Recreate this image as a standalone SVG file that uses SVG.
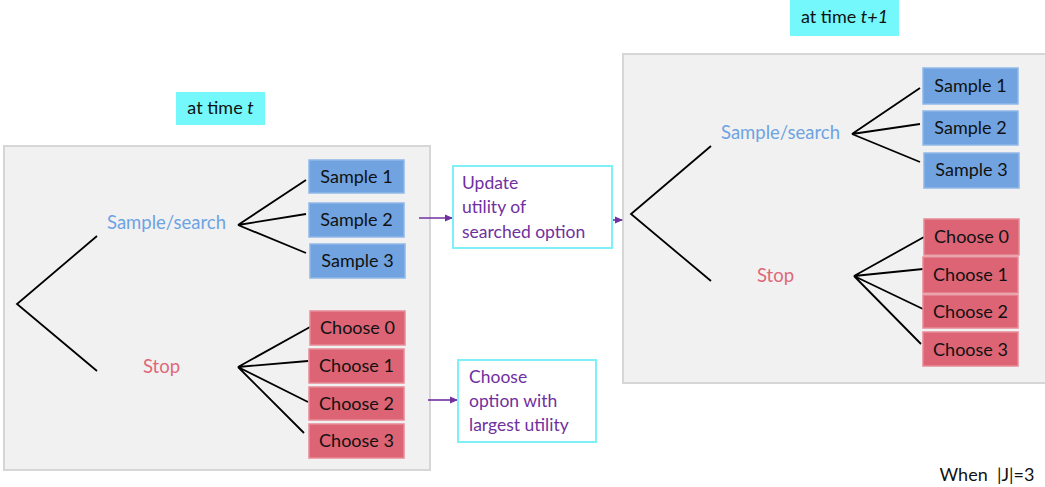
<svg xmlns="http://www.w3.org/2000/svg" width="1045" height="487" viewBox="0 0 1045 487">
<style>
.panel{fill:#f1f1f1;stroke:#d6d6d6;stroke-width:2}
.lbl{fill:#74f8fc}
.blue{fill:#70a3df;stroke:#8fb8e8;stroke-width:1.5}
.red{fill:#dc6474;stroke:#e88a96;stroke-width:1.5}
.t{font-family:Lato,"Liberation Sans",sans-serif;font-size:18px;fill:#111;text-anchor:middle}
.s{font-family:Lato,"Liberation Sans",sans-serif;font-size:18.5px;fill:#6ea3e2;text-anchor:middle}
.st{font-family:Lato,"Liberation Sans",sans-serif;font-size:18.5px;fill:#e06878;text-anchor:middle}
.p{font-family:Lato,"Liberation Sans",sans-serif;font-size:17.5px;fill:#7030a0}
.box{fill:#fff;stroke:#80f0f8;stroke-width:2}
.ln{stroke:#000;stroke-width:1.8;fill:none}
.ar{stroke:#7030a0;stroke-width:1.6;fill:none;marker-end:url(#ah)}
</style>
<defs>
<marker id="ah" markerWidth="8" markerHeight="8" refX="7" refY="4" orient="auto" markerUnits="userSpaceOnUse">
<path d="M0,0.5 L8,4 L0,7.5 Z" fill="#7030a0"/>
</marker>
</defs>
<rect width="1045" height="487" fill="#fff"/>
<g id="panel-t">
<rect class="panel" x="4" y="146" width="426" height="324"/>
</g>
<g id="panel-t1">
<rect class="panel" x="623" y="54" width="425" height="329"/>
</g>
<g id="label-t"><rect class="lbl" x="176" y="92" width="89" height="33"/><text class="t" x="220.5" y="114" font-size="17">at time <tspan font-style="italic">t</tspan></text></g>
<g id="label-t1"><rect class="lbl" x="790" y="0" width="109" height="36"/><text class="t" x="844.5" y="23" font-size="17">at time <tspan font-style="italic">t+1</tspan></text></g>
<g id="connectors">
<polyline class="ln" points="97,236 17,304 97,371"/>
<path class="ln" d="M306,180 L238,225 L306,214 M238,225 L306,253"/>
<path class="ln" d="M310,327 L238,367 L308,361 M238,367 L308,402 M238,367 L304,433"/>
<polyline class="ln" points="711,146 631,214 711,281"/>
<path class="ln" d="M920,88 L852,134 L920,124 M852,134 L920,162"/>
<path class="ln" d="M924,237 L854,276 L923,269 M854,276 L923,309 M854,276 L921,344"/>
<line class="ar" x1="419" y1="218" x2="452" y2="218"/>
<line class="ar" x1="590" y1="220" x2="622" y2="220"/>
<line class="ar" x1="428" y1="400" x2="457" y2="400"/>
</g>
<g id="sample-search-t"><text class="s" x="166.5" y="229">Sample/search</text></g>
<g id="stop-t"><text class="st" x="161.5" y="373">Stop</text></g>
<g id="sample-search-t1"><text class="s" x="780.5" y="139">Sample/search</text></g>
<g id="stop-t1"><text class="st" x="775.5" y="282">Stop</text></g>
<g id="l-s1"><rect class="blue" x="309" y="160" width="95" height="33"/><text class="t" x="356.5" y="183">Sample 1</text></g>
<g id="l-s2"><rect class="blue" x="309" y="203" width="95" height="34"/><text class="t" x="356.5" y="226">Sample 2</text></g>
<g id="l-s3"><rect class="blue" x="310" y="244" width="95" height="34"/><text class="t" x="357.5" y="267">Sample 3</text></g>
<g id="l-c0"><rect class="red" x="310" y="311" width="95" height="34"/><text class="t" x="357.5" y="334">Choose 0</text></g>
<g id="l-c1"><rect class="red" x="309" y="349" width="95" height="34"/><text class="t" x="356.5" y="372">Choose 1</text></g>
<g id="l-c2"><rect class="red" x="309" y="387" width="95" height="33"/><text class="t" x="356.5" y="410">Choose 2</text></g>
<g id="l-c3"><rect class="red" x="309" y="424" width="95" height="34"/><text class="t" x="356.5" y="447">Choose 3</text></g>
<g id="r-s1"><rect class="blue" x="923" y="68" width="95" height="36"/><text class="t" x="970.5" y="92">Sample 1</text></g>
<g id="r-s2"><rect class="blue" x="923" y="111" width="95" height="34"/><text class="t" x="970.5" y="134">Sample 2</text></g>
<g id="r-s3"><rect class="blue" x="924" y="153" width="95" height="35"/><text class="t" x="971.5" y="176">Sample 3</text></g>
<g id="r-c0"><rect class="red" x="924" y="219" width="95" height="36"/><text class="t" x="971.5" y="243">Choose 0</text></g>
<g id="r-c1"><rect class="red" x="923" y="257" width="95" height="36"/><text class="t" x="970.5" y="281">Choose 1</text></g>
<g id="r-c2"><rect class="red" x="923" y="295" width="95" height="33"/><text class="t" x="970.5" y="318">Choose 2</text></g>
<g id="r-c3"><rect class="red" x="923" y="332" width="95" height="34"/><text class="t" x="970.5" y="356">Choose 3</text></g>
<g id="update"><rect class="box" x="453" y="166" width="159" height="82"/>
<text class="p" x="462" y="189">Update</text><text class="p" x="462" y="213">utility of</text><text class="p" x="462" y="238">searched option</text></g>
<g id="choose-opt"><rect class="box" x="458" y="360" width="138" height="82"/>
<text class="p" x="469" y="383">Choose</text><text class="p" x="469" y="407">option with</text><text class="p" x="469" y="431">largest utility</text></g>
<g id="note"><text class="t" x="987" y="481" font-size="16">When&#160; |J|=3</text></g>
</svg>
